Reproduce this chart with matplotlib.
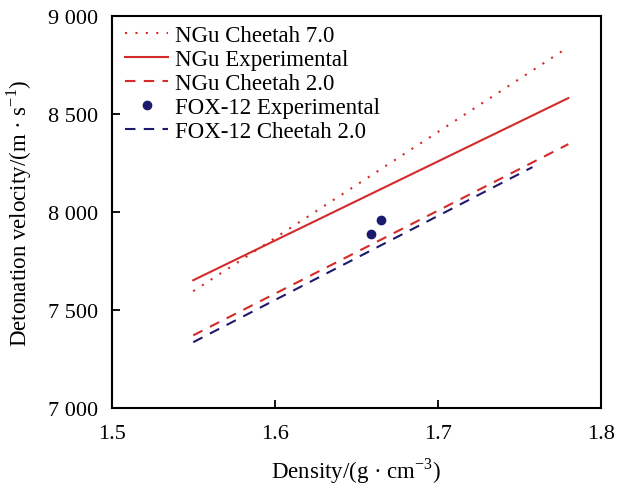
import matplotlib
matplotlib.use('Agg')
import matplotlib.pyplot as plt
from matplotlib.ticker import FuncFormatter, MultipleLocator

plt.rcParams['font.family'] = ['Liberation Serif', 'DejaVu Serif']
plt.rcParams['mathtext.fontset'] = 'custom'
plt.rcParams['mathtext.rm'] = 'Liberation Serif'

# data
density_ngu = [1.55, 1.78]
ngu_cheetah7 = [7597, 8842]
ngu_exp = [7653, 8582]
ngu_cheetah2 = [7372, 8347]

density_fox = [1.55, 1.758]
fox_cheetah2 = [7337, 8230]

fox_exp_x = [1.659, 1.665]
fox_exp_y = [7888, 7959]

red = '#d42a2a'
navy = '#1c1a6e'

fig, ax = plt.subplots(figsize=(6.17, 4.89), dpi=100)
fig.subplots_adjust(left=0.181, right=0.974, top=0.965, bottom=0.163)

ax.plot(density_ngu, ngu_cheetah7, color=red, lw=1.5, linestyle=(0, (1, 4)), label='NGu Cheetah 7.0')
ax.plot(density_ngu, ngu_exp, color=red, lw=1.5, label='NGu Experimental')
ax.plot(density_ngu, ngu_cheetah2, color=red, lw=1.5, linestyle=(0, (5, 4)), label='NGu Cheetah 2.0')
ax.plot(fox_exp_x, fox_exp_y, 'o', color=navy, markersize=6, label='FOX-12 Experimental')
ax.plot(density_fox, fox_cheetah2, color=navy, lw=1.5, linestyle=(0, (5, 4)), label='FOX-12 Cheetah 2.0')

ax.set_xlim(1.5, 1.8)
ax.set_ylim(7000, 9000)
ax.xaxis.set_major_locator(MultipleLocator(0.1))
ax.yaxis.set_major_locator(MultipleLocator(500))
ax.yaxis.set_major_formatter(FuncFormatter(lambda v, p: f'{int(v):,}'.replace(',', ' ')))
ax.tick_params(direction='in', length=6, width=1.3, labelsize=16, top=False, right=False)
ax.tick_params(axis='y', pad=9.5)
ax.tick_params(axis='x', pad=11)
for s in ax.spines.values():
    s.set_linewidth(1.5)

ax.set_xlabel('Density/(g · cm$^{-3}$)', fontsize=16.5, labelpad=9)
ax.set_ylabel('Detonation velocity/(m · s$^{-1}$)', fontsize=16.5, labelpad=10)

ax.legend(loc='upper left', frameon=False, fontsize=16.5, handlelength=1.9,
          handletextpad=0.3, labelspacing=0.13, borderaxespad=0.0,
          bbox_to_anchor=(0.008, 1.0))

plt.savefig('out.png', dpi=100)
